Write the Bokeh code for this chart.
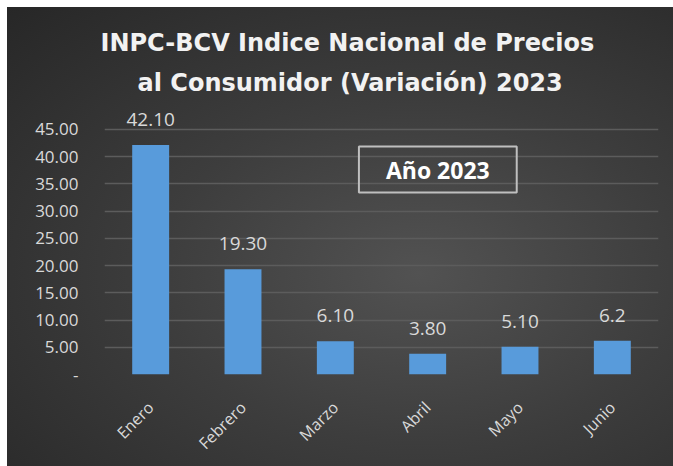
from bokeh.plotting import figure
from bokeh.models import (ColumnDataSource, FactorRange, FixedTicker, CustomJSTickFormatter,
                          LabelSet, Label, Title)
from bokeh.core.properties import value
from bokeh.embed import file_html
from bokeh.resources import INLINE
from math import pi

months = ["Enero", "Febrero", "Marzo", "Abril", "Mayo", "Junio"]
values = [42.10, 19.30, 6.10, 3.80, 5.10, 6.2]
value_labels = ["42.10", "19.30", "6.10", "3.80", "5.10", "6.2"]
y_ticks = [0, 5, 10, 15, 20, 25, 30, 35, 40, 45]
title_line1 = "INPC-BCV Indice Nacional de Precios"
title_line2 = "al Consumidor (Variación) 2023"
box_text = "Año 2023"

src = ColumnDataSource(dict(month=months, value=values, label=value_labels))

p = figure(x_range=FactorRange(factors=months, range_padding=0), y_range=(0, 49),
           width=666, height=459, output_backend="svg", toolbar_location=None,
           min_border_left=97, min_border_right=15, min_border_bottom=92, min_border_top=100)
p.title = None
p.background_fill_color = None
p.border_fill_color = None
p.outline_line_color = None
p.styles = {"background": "radial-gradient(ellipse at 62% 58%, #525252 0%, #3d3d3d 45%, #272727 100%)",
            "margin-left": "7px", "margin-top": "7px"}

p.vbar(x="month", top="value", width=0.4, source=src, color="#589bdb", line_color=None)

labels = LabelSet(x="month", y="value", text="label", source=src, text_align="center",
                  text_baseline="bottom", y_offset=19, text_color="#d9d9d9",
                  text_font_size="19px", text_font=value("Open Sans"))
p.add_layout(labels)

box = Label(x=3.61, y=37.6, text=box_text, text_align="center", text_baseline="middle",
            text_color="#ffffff", text_font_size="23px", text_font_style="bold",
            text_font="Open Sans", border_line_color="#bfbfbf", border_line_width=2,
            padding=(27, 27, 7, 7))
p.add_layout(box)

t2 = Title(text=title_line2, align="left", text_font_size="24px", text_font_style="bold",
           text_color="#f2f2f2", text_font="DejaVu Sans", standoff=21, offset=33)
t1 = Title(text=title_line1, align="left", text_font_size="24px", text_font_style="bold",
           text_color="#f2f2f2", text_font="DejaVu Sans", standoff=0, offset=-4)
p.add_layout(t2, "above")
p.add_layout(t1, "above")

p.xgrid.grid_line_color = None
p.ygrid.grid_line_color = "#5c5c5c"
p.ygrid.grid_line_width = 1.5
p.ygrid.ticker = FixedTicker(ticks=y_ticks)

p.yaxis.ticker = FixedTicker(ticks=y_ticks)
p.yaxis.formatter = CustomJSTickFormatter(code="return tick == 0 ? '-' : tick.toFixed(2);")
p.yaxis.axis_line_color = None
p.yaxis.major_tick_line_color = None
p.yaxis.minor_tick_line_color = None
p.yaxis.major_label_text_color = "#d9d9d9"
p.yaxis.major_label_text_font_size = "17px"
p.yaxis.major_label_text_font = "Open Sans"
p.yaxis.major_label_standoff = 20

p.xaxis.axis_line_color = None
p.xaxis.major_tick_line_color = None
p.xaxis.major_label_orientation = pi / 4
p.xaxis.major_label_text_color = "#d9d9d9"
p.xaxis.major_label_text_font_size = "16px"
p.xaxis.major_label_text_font = "Open Sans"
p.xaxis.major_label_standoff = 24

open("out.html", "w").write(file_html(p, INLINE))
